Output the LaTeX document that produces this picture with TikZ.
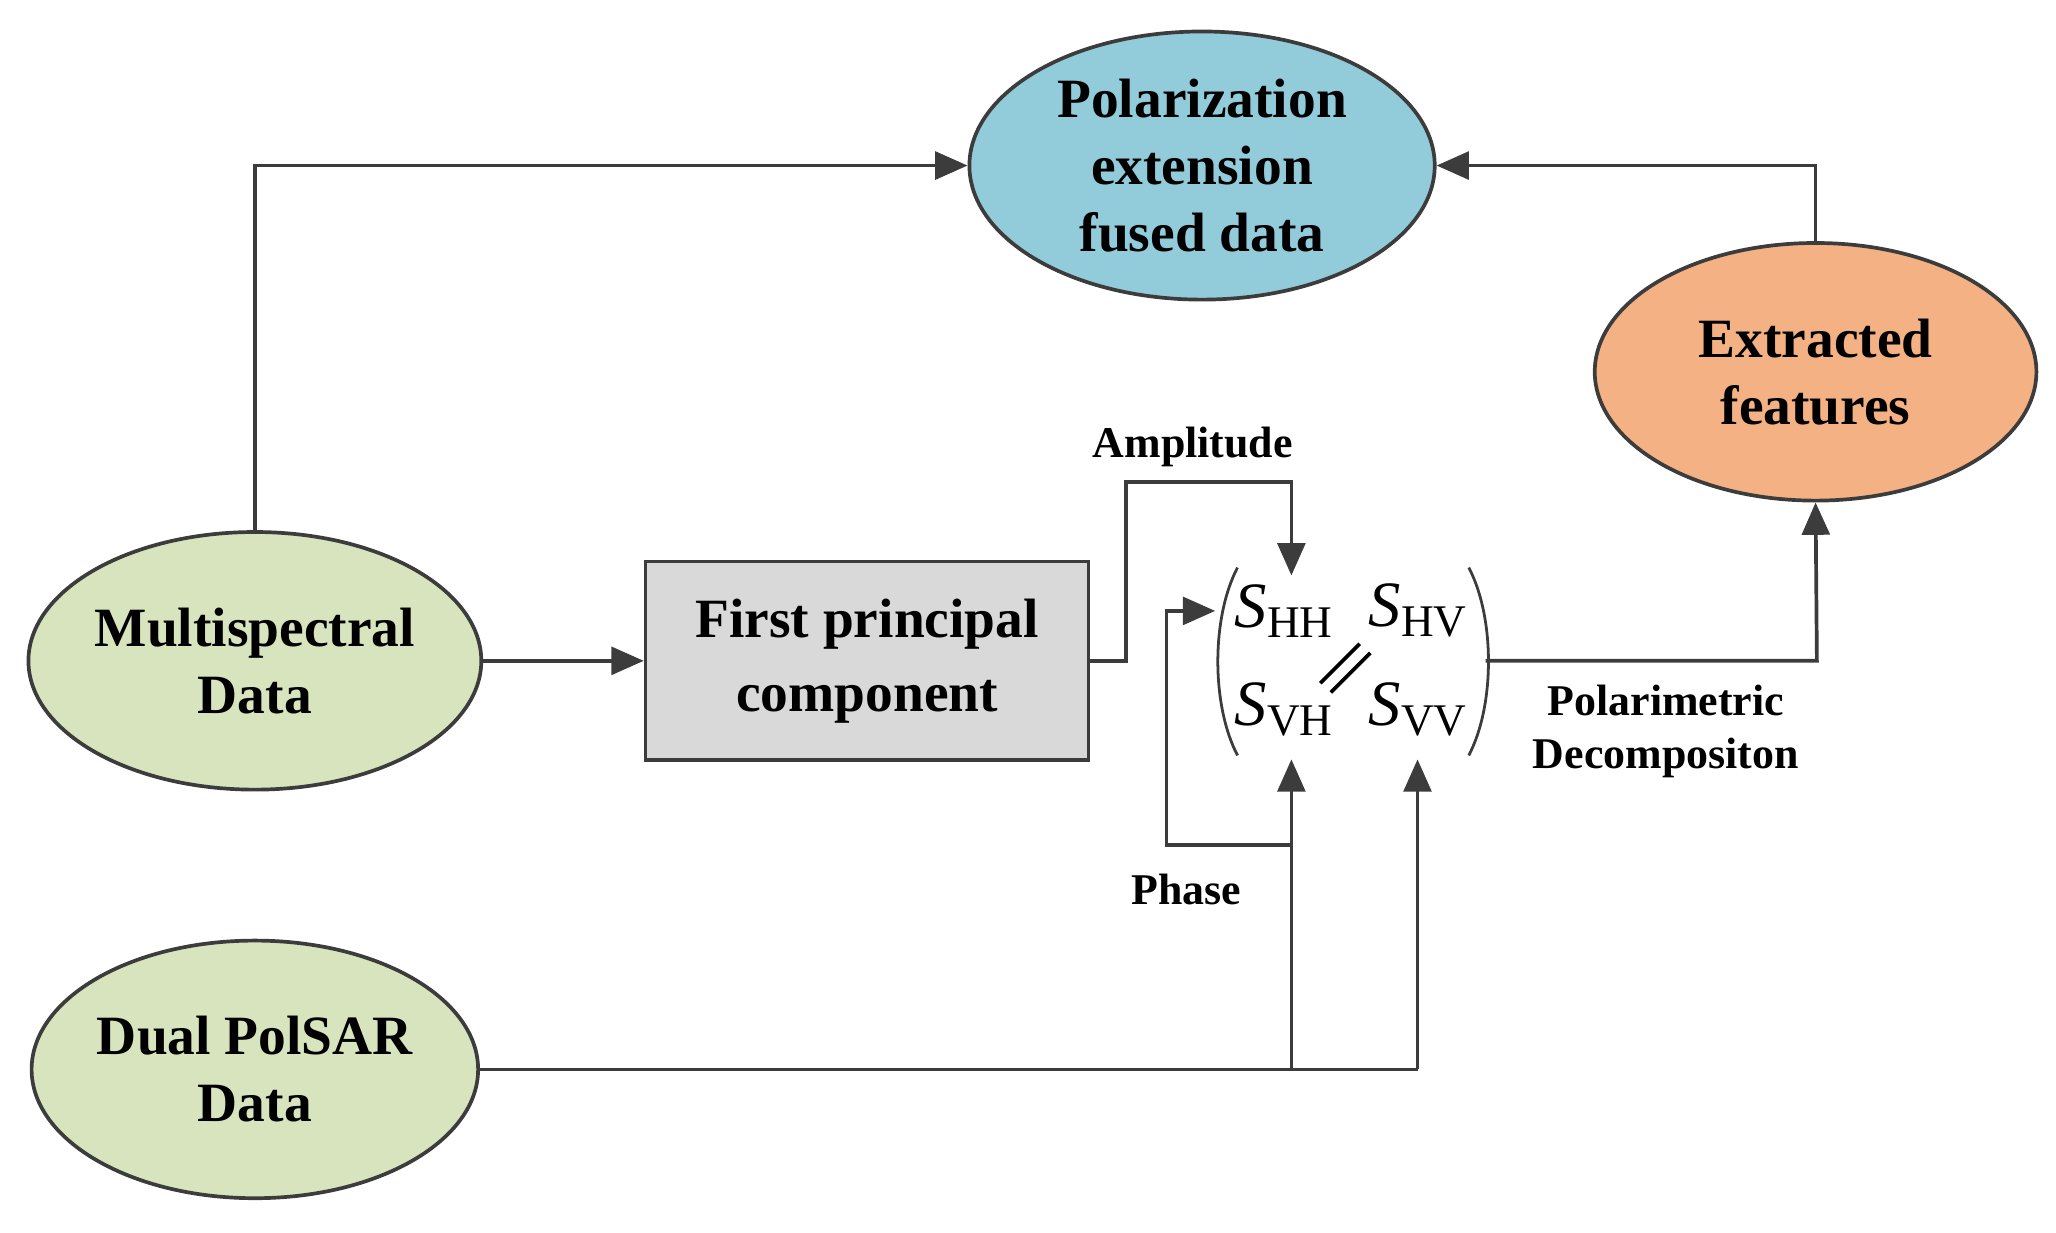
\documentclass[tikz,border=0pt]{standalone}
\usepackage{fontspec}
\setmainfont{Liberation Serif}
\usetikzlibrary{arrows.meta,shapes.geometric}
\definecolor{cblue}{RGB}{146,203,218}
\definecolor{corange}{RGB}{244,177,131}
\definecolor{cgreen}{RGB}{215,228,189}
\definecolor{cgray}{RGB}{217,217,217}
\definecolor{cline}{RGB}{60,60,60}
\begin{document}
\begin{tikzpicture}[x=0.01cm,y=-0.01cm,
  ell/.style={draw=cline,line width=0.8pt,ellipse,inner sep=0pt,font=\fontsize{12}{14.5}\selectfont\bfseries,align=center},
  lab/.style={font=\fontsize{9.5}{11.5}\selectfont\bfseries,align=center},
  conn/.style={draw=cline,line width=0.8pt},
  arr/.style={conn,-{Triangle[length=7pt,width=6pt]}},
  sv/.style={font=\fontsize{14}{16}\selectfont}]
\useasboundingbox (0,0) rectangle (1565,938);
\node[ell,fill=cblue,minimum width=3.54cm,minimum height=2.04cm] (pol) at (915,126) {Polarization\\extension\\fused data};
\node[ell,fill=corange,minimum width=3.36cm,minimum height=1.96cm] (ext) at (1382,283) {Extracted\\features};
\node[ell,fill=cgreen,minimum width=3.36cm,minimum height=1.96cm] (ms) at (194,503) {Multispectral\\Data};
\node[ell,fill=cgreen,minimum width=3.36cm,minimum height=1.96cm] (dual) at (194,814) {Dual PolSAR\\Data};
\node[draw=cline,line width=0.8pt,fill=cgray,minimum width=3.37cm,minimum height=1.51cm,align=center,font=\fontsize{12}{16}\selectfont\bfseries] (fpc) at (660,503) {First principal\\component};
% matrix
\node[minimum width=2.0cm,minimum height=1.43cm,inner sep=0pt] (mat) at (1030,503) {};
\draw[cline,line width=0.6pt] (942,432) .. controls (922,470) and (922,537) .. (942,575);
\draw[cline,line width=0.6pt] (1118,432) .. controls (1138,470) and (1138,537) .. (1118,575);
\node[sv] (shh) at (978,465) {\textit{S}\textsubscript{HH}};
\node[sv] (shv) at (1080,465) {\textit{S}\textsubscript{HV}};
\node[sv] (svh) at (978,540) {\textit{S}\textsubscript{VH}};
\node[sv] (svv) at (1080,540) {\textit{S}\textsubscript{VV}};
\draw[line width=0.8pt] (1005,520) -- (1035,490) (1013,527) -- (1043,497);
% coordinates
\coordinate (c1) at (194,126);
\coordinate (c2) at (1382,126);
\coordinate (a1) at (857,503);
\coordinate (a2) at (857,367);
\coordinate (a3) at (983,367);
\coordinate (ahh) at (983,438);
\coordinate (j1) at (983,814);
\coordinate (j2) at (1079,814);
\coordinate (avh) at (983,578);
\coordinate (avv) at (1079,578);
\coordinate (p1) at (983,643);
\coordinate (p2) at (888,643);
\coordinate (p3) at (888,465);
\coordinate (p4) at (925,465);
\coordinate (m1) at (1383,503);
\draw[arr] (ms.north) -- (c1) -- (pol.west);
\draw[arr] (ext.north) -- (c2) -- (pol.east);
\draw[arr] (ms.east) -- (fpc.west);
\draw[arr] (fpc.east) -- (a1) -- (a2) -- (a3) -- (ahh);
\draw[conn] (dual.east) -- (j1) -- (j2);
\draw[arr] (j1) -- (avh);
\draw[arr] (j2) -- (avv);
\draw[arr] (p1) -- (p2) -- (p3) -- (p4);
\draw[arr] (mat.east) -- (m1) -- (ext.south);
\node[lab] (amp) at (908,340) {Amplitude};
\node[lab] (ph) at (903,677) {Phase};
\node[lab] (pd) at (1268,557) {Polarimetric\\Decompositon};
\end{tikzpicture}
\end{document}
